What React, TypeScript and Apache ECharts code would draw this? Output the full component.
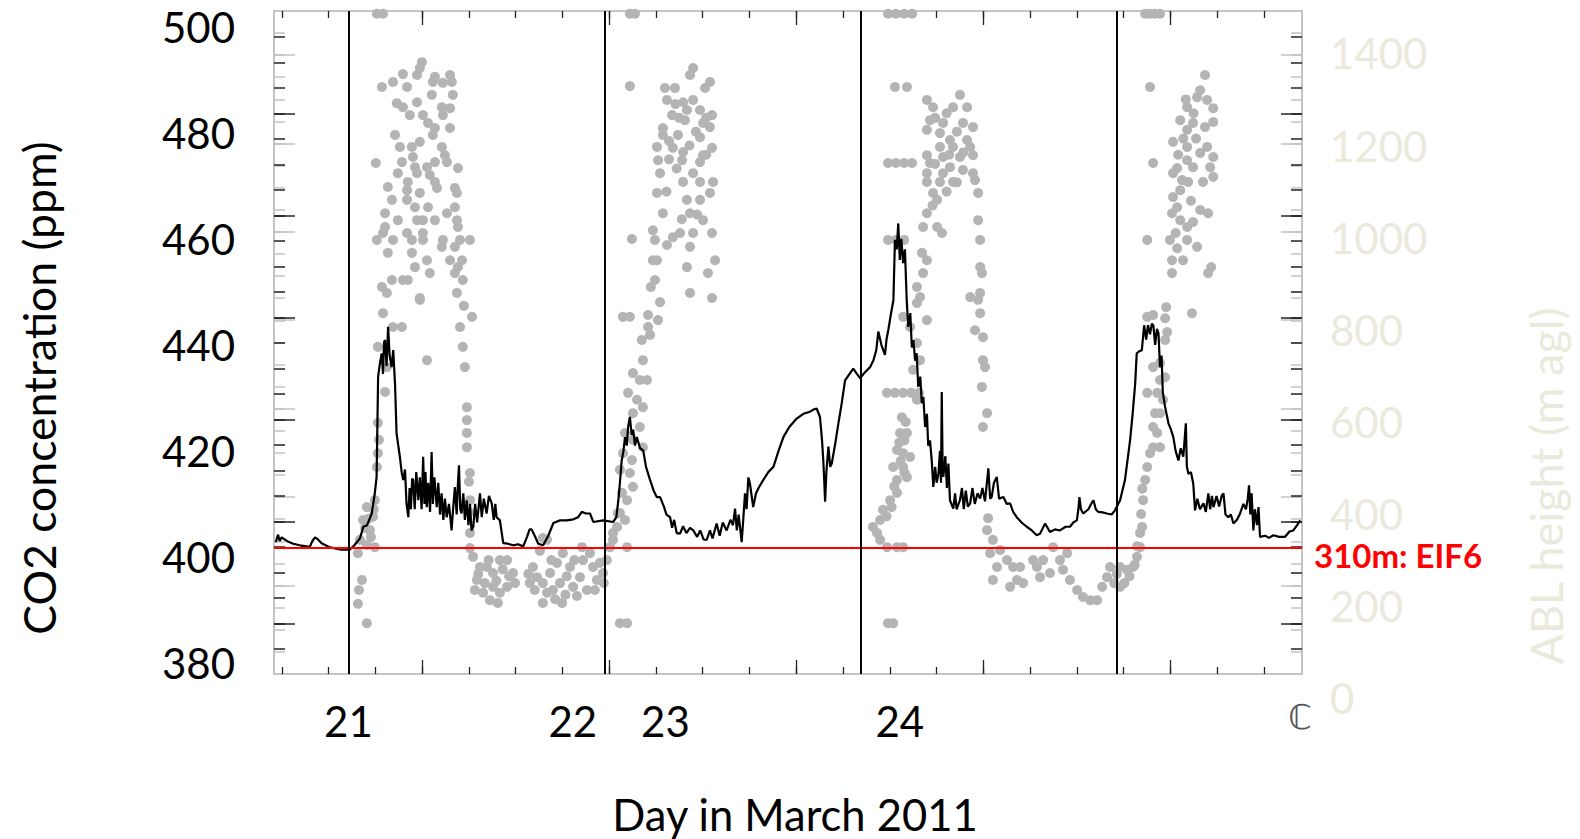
import React, { useEffect, useRef } from 'react';
import * as echarts from 'echarts';

// CO2 concentration (ppm) at station, [day in March 2011, ppm]
const co2Data: [number, number][] = [
  [20.713,402.8],[20.722,404.2],[20.728,403.0],[20.736,403.7],[20.760,402.9],[20.781,402.5],[20.807,402.2],[20.846,401.9],[20.856,403.0],[20.866,403.7],[20.878,403.3],[20.892,402.6],[20.925,401.8],[20.964,401.4],[21.003,401.4],[21.020,402.2],[21.042,403.5],[21.055,405.7],[21.070,406.0],[21.088,408.2],[21.100,412.0],[21.107,415.1],[21.113,434.0],[21.120,436.5],[21.127,438.4],[21.132,434.5],[21.136,440.5],[21.140,440.9],[21.146,436.0],[21.152,443.4],[21.158,438],[21.166,435.8],[21.172,439],[21.179,432.7],[21.185,423.3],[21.198,418.9],[21.205,416],[21.211,414.5],[21.218,416.5],[21.224,410],[21.231,407.5],[21.236,413],[21.241,409],[21.246,414.8],[21.250,414.5],[21.256,409],[21.262,416],[21.270,410.7],[21.276,415],[21.283,409],[21.289,418.9],[21.294,410],[21.298,416],[21.303,409.4],[21.309,414],[21.316,408.5],[21.322,419.8],[21.327,410],[21.333,415],[21.342,409.4],[21.348,414],[21.355,408],[21.361,412.0],[21.368,407],[21.374,411],[21.381,407.5],[21.390,410],[21.400,405.0],[21.406,409],[21.413,413.2],[21.420,408],[21.425,414],[21.429,417.3],[21.434,409],[21.439,408.2],[21.446,412],[21.452,407],[21.459,410.7],[21.466,406],[21.472,410],[21.478,405],[21.485,405.7],[21.492,410],[21.500,406.5],[21.511,412.0],[21.518,407.5],[21.526,411],[21.537,408.2],[21.546,411.5],[21.557,410.1],[21.565,407],[21.571,410],[21.576,407.5],[21.589,406.9],[21.602,402.6],[21.620,402.5],[21.641,402.2],[21.660,402.4],[21.680,402.0],[21.695,403.8],[21.705,405.2],[21.713,405.2],[21.725,404],[21.739,402.5],[21.758,402.2],[21.778,404],[21.798,406.4],[21.824,406.9],[21.850,406.9],[21.876,407.1],[21.895,407.5],[21.909,408.5],[21.925,408.2],[21.941,408.2],[21.954,406.6],[21.993,406.9],[22.032,406.6],[22.044,407.5],[22.052,410.7],[22.058,414],[22.065,418.2],[22.072,420],[22.078,422.6],[22.085,421],[22.090,424.5],[22.097,426.4],[22.104,423],[22.110,424],[22.117,421],[22.124,422.6],[22.137,420.5],[22.149,420.1],[22.160,417],[22.176,414.5],[22.190,412.5],[22.202,411.3],[22.215,411.3],[22.230,409.5],[22.240,408],[22.254,407.5],[22.262,405.5],[22.270,407],[22.280,404.5],[22.293,404.4],[22.305,405.8],[22.318,404.5],[22.332,405.5],[22.345,405.0],[22.360,403.8],[22.372,405],[22.385,403.3],[22.397,403.2],[22.410,405],[22.420,403.5],[22.436,406.3],[22.448,404],[22.460,406.5],[22.475,405.0],[22.490,407],[22.500,406],[22.508,409.1],[22.515,405],[22.522,408],[22.534,402.8],[22.540,407],[22.547,412.0],[22.553,409],[22.560,415],[22.566,413.9],[22.579,409.4],[22.590,412],[22.600,413],[22.618,414.5],[22.638,416],[22.658,417.0],[22.678,420],[22.697,422.6],[22.720,424.5],[22.749,426.1],[22.775,427],[22.801,427.4],[22.815,427.8],[22.827,428.0],[22.840,426.4],[22.848,422],[22.853,418.2],[22.857,414],[22.860,410.4],[22.865,416],[22.873,420.8],[22.880,417],[22.886,417.6],[22.900,421.5],[22.912,425.2],[22.925,429],[22.938,433.3],[22.955,434.5],[22.970,435.5],[22.985,434.5],[22.997,433.7],[23.015,434.8],[23.036,435.8],[23.049,437.1],[23.060,439],[23.068,442.5],[23.080,440],[23.094,438.1],[23.100,441],[23.107,442.8],[23.118,446],[23.127,448.4],[23.133,459.8],[23.140,458],[23.146,462.9],[23.152,456],[23.158,460],[23.165,455.4],[23.172,458],[23.179,448.4],[23.185,443.4],[23.193,446],[23.199,439.5],[23.205,440.9],[23.212,437],[23.218,438.4],[23.224,432.1],[23.232,434],[23.238,429],[23.244,430.2],[23.251,424.5],[23.258,427],[23.263,421],[23.270,422.0],[23.277,418],[23.283,413.2],[23.290,417],[23.296,414],[23.303,415.7],[23.309,420],[23.313,414],[23.316,431.1],[23.319,418],[23.322,415.1],[23.330,419],[23.336,413],[23.342,417.6],[23.348,410.7],[23.361,409.1],[23.368,412],[23.374,409],[23.387,410.7],[23.395,413],[23.402,409],[23.410,412.5],[23.418,409.5],[23.427,410.1],[23.436,413],[23.445,410],[23.456,412],[23.466,411.0],[23.475,413],[23.485,410.5],[23.498,416.7],[23.505,411],[23.511,411.3],[23.520,414],[23.531,415.1],[23.540,411],[23.557,411.3],[23.570,410],[23.583,410.1],[23.595,408.5],[23.609,407.5],[23.628,406.5],[23.648,405.7],[23.668,405],[23.687,404.1],[23.700,404.4],[23.720,406.3],[23.739,404.7],[23.758,405.2],[23.778,405.0],[23.800,405.7],[23.817,405.7],[23.830,406.5],[23.844,406.9],[23.850,409],[23.854,411.3],[23.860,409],[23.869,408.2],[23.889,409],[23.900,410],[23.909,410.7],[23.918,409],[23.928,408.5],[23.945,408.4],[23.961,408.2],[23.980,408],[23.993,408.8],[24.013,410.7],[24.032,414.5],[24.052,422.0],[24.062,427],[24.072,432.7],[24.078,438.4],[24.088,438.8],[24.098,439.0],[24.107,443.7],[24.115,441],[24.122,443.7],[24.130,442],[24.137,444],[24.143,443.7],[24.150,440],[24.157,443],[24.163,442.2],[24.169,435.8],[24.175,438],[24.180,431],[24.189,428.3],[24.202,425.2],[24.212,424],[24.221,422.6],[24.230,420],[24.241,418.2],[24.250,420.5],[24.260,418.9],[24.265,422],[24.270,425.2],[24.274,417],[24.280,415.7],[24.290,416],[24.299,413.8],[24.306,408.8],[24.315,411],[24.325,409],[24.339,410.1],[24.348,408.5],[24.358,412.0],[24.365,409],[24.372,411.5],[24.378,409.4],[24.390,411.5],[24.400,409.5],[24.410,411.5],[24.417,412.0],[24.425,408],[24.436,407.5],[24.446,408],[24.456,406.3],[24.470,407],[24.482,408.2],[24.495,410],[24.505,409],[24.512,411],[24.517,413.5],[24.522,408],[24.527,412],[24.534,405.0],[24.540,409],[24.548,406],[24.554,409.4],[24.560,403.8],[24.580,404],[24.595,403.6],[24.612,404.1],[24.635,403.8],[24.658,403.8],[24.675,404.8],[24.690,405.0],[24.705,406],[24.717,406.9]
];

// ABL height (m agl), [day in March 2011, m]
const ablData: [number, number][] = [
  [21.284,1381],[21.276,1368],[21.210,1355],[21.265,1353],[21.335,1349],[21.394,1353],[21.171,1338],[21.226,1327],[21.128,1327],[21.327,1338],[21.366,1336],[21.401,1338],[21.323,1310],[21.405,1310],[21.186,1292],[21.265,1294],[21.210,1283],[21.362,1283],[21.394,1281],[21.237,1266],[21.288,1266],[21.366,1266],[21.308,1249],[21.335,1238],[21.394,1238],[21.327,1223],[21.179,1223],[21.276,1208],[21.362,1197],[21.198,1197],[21.245,1197],[21.374,1179],[21.249,1175],[21.104,1162],[21.206,1164],[21.335,1164],[21.382,1164],[21.425,1151],[21.257,1153],[21.304,1153],[21.190,1140],[21.265,1140],[21.315,1136],[21.335,1121],[21.229,1121],[21.151,1110],[21.226,1103],[21.276,1097],[21.343,1108],[21.413,1108],[21.421,1097],[21.167,1082],[21.226,1082],[21.257,1066],[21.308,1066],[21.413,1066],[21.140,1053],[21.382,1053],[21.335,1038],[21.421,1038],[21.190,1038],[21.265,1038],[21.288,1038],[21.425,1023],[21.140,1023],[21.132,1010],[21.226,1010],[21.288,1010],[21.108,995],[21.171,995],[21.245,995],[21.288,995],[21.366,995],[21.433,995],[21.472,995],[21.413,980],[21.362,980],[21.151,967],[21.245,967],[21.304,951],[21.394,951],[21.441,951],[21.257,936],[21.425,936],[21.315,923],[21.413,923],[21.167,908],[21.210,908],[21.229,908],[21.444,908],[21.128,893],[21.147,880],[21.421,880],[21.276,869],[21.108,1486],[21.132,1486],
  [21.276,865],[21.448,852],[21.132,836],[21.480,828],[21.171,806],[21.206,806],[21.433,806],[21.112,763],[21.444,763],[21.147,719],[21.452,719],[21.304,734],[21.140,665],[21.460,632],[21.112,598],[21.460,604],[21.116,561],[21.460,576],[21.460,545],[21.112,532],[21.108,502],[21.472,489],[21.468,470],[21.100,430],[21.472,430],[21.069,415],[21.468,404],[21.093,394],[21.054,387],[21.081,365],[21.472,359],[21.042,344],[21.069,333],[21.100,328],[21.472,326],[21.034,315],[21.050,257],[21.038,235],[21.034,205],[21.069,163],[21.062,370],[21.085,350],[21.076,390],[21.096,410],
  [21.484,307],[21.511,285],[21.499,257],[21.491,235],[21.538,285],[21.562,272],[21.589,300],[21.617,300],[21.562,242],[21.589,229],[21.581,207],[21.640,272],[21.648,250],[21.617,242],[21.523,229],[21.550,213],[21.757,348],[21.773,344],[21.718,285],[21.734,263],[21.706,250],[21.757,250],[21.785,272],[21.812,294],[21.835,315],[21.863,285],[21.824,250],[21.773,229],[21.757,207],[21.796,235],[21.832,207],[21.875,242],[21.902,263],[21.914,300],[21.910,328],[21.941,315],[21.953,285],[21.929,235],[21.968,257],[21.992,272],[22.007,300],[22.019,328],[22.031,344],[22.047,372],[22.058,402],[22.031,359],[21.980,294],[22.086,328],[22.058,163],[22.086,163],
  [21.504,270],[21.530,250],[21.545,300],[21.575,255],[21.600,280],[21.625,265],[21.700,270],[21.745,320],[21.790,300],[21.850,265],[21.880,300],[21.890,222],[21.960,235],[21.995,250],[21.845,225],[21.805,215],[21.725,235],
  [22.070,828],[22.097,828],[22.168,832],[22.168,806],[22.144,778],[22.148,734],[22.109,706],[22.136,691],[22.164,691],[22.090,663],[22.125,648],[22.148,632],[22.109,619],[22.136,589],[22.078,576],[22.109,561],[22.148,545],[22.070,532],[22.105,517],[22.058,496],[22.097,489],[22.109,459],[22.066,446],[22.086,430],[22.050,402],[22.078,387],[22.097,1486],[22.117,1486],[22.097,1329],[22.105,997],[22.195,995],[22.203,951],[22.179,893],[22.215,860],[22.207,821],[22.176,789],
  [22.344,1368],[22.332,1353],[22.410,1338],[22.234,1325],[22.273,1325],[22.391,1325],[22.242,1299],[22.305,1294],[22.344,1299],[22.320,1277],[22.371,1277],[22.418,1266],[22.262,1266],[22.312,1255],[22.383,1249],[22.226,1238],[22.410,1240],[22.226,1223],[22.285,1223],[22.371,1218],[22.203,1197],[22.265,1195],[22.305,1186],[22.418,1195],[22.383,1179],[22.207,1168],[22.301,1168],[22.371,1164],[22.215,1140],[22.344,1140],[22.305,1121],[22.371,1121],[22.422,1121],[22.203,1097],[22.320,1082],[22.371,1082],[22.410,1097],[22.226,1053],[22.332,1053],[22.383,1038],[22.187,1016],[22.265,1001],[22.293,1010],[22.344,1010],[22.418,1010],[22.242,984],[22.332,980],[22.187,951],[22.320,936],[22.430,951],[22.402,923],[22.195,908],[22.332,880],[22.418,869],
  [22.250,1210],[22.290,1260],[22.355,1230],[22.395,1180],[22.280,1150],[22.330,1200],[22.240,1100],[22.300,1040],[22.360,1050],[22.250,1170],[22.395,1260],[22.275,1290],
  [23.133,1327],[23.180,1327],[23.106,1162],[23.137,1162],[23.169,1162],[23.200,1162],[23.258,1299],[23.282,1283],[23.387,1310],[23.360,1283],[23.415,1283],[23.270,1255],[23.321,1249],[23.399,1249],[23.438,1240],[23.258,1234],[23.309,1227],[23.348,1212],[23.415,1212],[23.309,1197],[23.360,1197],[23.427,1197],[23.258,1179],[23.321,1175],[23.387,1175],[23.438,1179],[23.270,1162],[23.348,1153],[23.399,1147],[23.438,1140],[23.258,1140],[23.321,1140],[23.446,1125],[23.258,1121],[23.309,1121],[23.360,1121],[23.282,1097],[23.458,1097],[23.298,1082],[23.258,1053],[23.458,1038],[23.243,1023],[23.298,1023],[23.317,1010],[23.466,995],[23.239,967],[23.258,951],[23.466,936],[23.243,923],[23.473,923],[23.219,893],[23.466,880],[23.231,871],[23.427,871],[23.106,995],[23.137,995],[23.169,995],[23.106,1486],[23.137,1486],[23.169,1486],[23.200,1486],
  [23.290,1260],[23.335,1270],[23.375,1230],[23.345,1180],[23.290,1160],[23.400,1185],[23.375,1120],[23.335,1100],[23.280,1070],
  [23.458,865],[23.466,836],[23.446,799],[23.477,784],[23.477,734],[23.485,719],[23.473,676],[23.493,619],[23.477,589],[23.219,858],[23.258,821],[23.165,828],[23.192,806],[23.219,771],[23.231,734],[23.204,713],[23.102,663],[23.133,663],[23.165,663],[23.196,663],[23.227,663],[23.219,648],[23.153,576],[23.180,576],[23.141,539],[23.165,532],[23.192,524],[23.126,502],[23.165,502],[23.141,474],[23.180,480],[23.141,446],[23.114,430],[23.086,409],[23.075,387],[23.047,372],[23.063,359],[23.075,344],[23.102,328],[23.141,328],[23.165,328],[23.106,163],[23.126,163],[23.497,391],[23.493,365],[23.516,344],[23.505,315],[23.544,322],[23.532,285],[23.516,257],[23.571,300],[23.595,285],[23.610,257],[23.622,285],[23.583,242],[23.634,250],[23.673,300],[23.688,285],[23.712,300],[23.700,263],
  [23.160,610],[23.175,600],[23.150,555],[23.170,560],[23.155,515],[23.170,490],[23.130,460],[23.120,415],[23.100,395],
  [23.751,328],[23.778,300],[23.739,272],[23.806,315],[23.790,279],[23.817,257],[23.845,235],[23.868,220],[23.896,213],[23.923,213],[23.943,242],[23.962,263],[23.974,285],[24.013,285],[24.013,242],[24.040,279],[24.064,285],[24.079,307],[24.091,328],[24.091,359],[24.099,372],[24.103,430],[24.111,474],[24.119,502],[24.130,532],[24.142,545],[24.169,545],[24.158,576],[24.142,589],[24.150,619],[24.169,619],[24.181,648],[24.158,663],[24.169,691],[24.189,697],[24.142,719],[24.169,728],[24.189,778],[24.197,795],[24.189,825],[24.193,849],[24.119,828],[24.142,832],[24.119,663],[24.294,836],
  [23.990,250],[24.000,270],[24.030,250],[24.050,265],[24.070,290],[24.080,330],[24.095,400],[24.100,455],
  [24.345,1353],[24.130,1327],[24.326,1320],[24.314,1305],[24.353,1299],[24.275,1283],[24.377,1281],[24.248,1255],[24.298,1249],[24.377,1251],[24.275,1234],[24.220,1208],[24.275,1197],[24.353,1197],[24.326,1184],[24.377,1175],[24.142,1162],[24.275,1168],[24.236,1151],[24.298,1153],[24.365,1153],[24.220,1140],[24.377,1132],[24.279,1121],[24.337,1121],[24.248,1103],[24.220,1088],[24.236,1066],[24.326,1060],[24.216,1053],[24.357,1053],[24.248,1038],[24.275,1023],[24.298,1034],[24.119,995],[24.208,995],[24.275,995],[24.236,977],[24.314,980],[24.216,951],[24.259,951],[24.216,923],[24.357,923],[24.369,936],[24.111,1486],[24.130,1486],[24.150,1486],[24.169,1486],
  [24.300,1270],[24.260,1215],[24.310,1215],[24.240,1180],[24.345,1240],[24.255,1125],[24.230,1010],[24.290,1080],[24.270,1300]
];

const dayLines = [21, 22, 23, 24];
const dayLabelPos = [20.997, 21.874, 22.236, 23.152];
const dayLabelText = ['21', '22', '23', '24'];
const co2LabelMin = 380;
const co2LabelMax = 500;
const co2LabelStep = 20;
const ablLabelMin = 0;
const ablLabelMax = 1400;
const ablLabelStep = 200;
const eifHeight = 326;
const eifLabel = '310m: EIF6';

const X_MIN = 20.706;
const X_MAX = 24.724;
const CO2_MIN = 377.93;
const CO2_MAX = 502.96;
const ABL_MIN = 52.7;
const ABL_MAX = 1492;

function seq(start: number, step: number, count: number): number[] {
  const out: number[] = [];
  for (let i = 0; i < count; i++) out.push(+(start + step * i).toFixed(4));
  return out;
}

const xMinorTicks = seq(20.7369, 0.18276, 22);
const xMajorTicks = seq(21.2852, 0.73104, 5);
// frame tick marks (in frame pixel units, top = 11, bottom = 674)
const blackMinorTicks = seq(36.8, 25.5, 25);
const blackMajorTicks = seq(113.3, 102, 6);
const greyMinorTicks = seq(33, 22.1, 29);
const greyMajorTicks = seq(55, 88.4, 7);

const FONT = 'Lato';

function tickAxis(position: 'left' | 'right', values: number[], length: number, color: string) {
  return {
    gridIndex: 0,
    type: 'value',
    inverse: true,
    min: 11,
    max: 674,
    position,
    axisLine: { show: false },
    splitLine: { show: false },
    axisLabel: { show: false },
    axisTick: { show: true, inside: true, length, customValues: values, lineStyle: { color, width: 1.5 } },
  };
}

function xTickAxis(position: 'top' | 'bottom', values: number[], length: number) {
  return {
    gridIndex: 0,
    type: 'value',
    min: X_MIN,
    max: X_MAX,
    position,
    axisLine: { show: false },
    splitLine: { show: false },
    axisLabel: { show: false },
    axisTick: { show: true, inside: true, length, customValues: values, lineStyle: { color: '#222', width: 1.3 } },
  };
}

export default function App() {
  const ref = useRef<HTMLDivElement>(null);
  useEffect(() => {
    const chart = echarts.init(ref.current!, null, { renderer: 'svg' });
    const option: any = {
      animation: false,
      backgroundColor: '#ffffff',
      grid: [
        { left: 274, top: 11, width: 1028, height: 663, show: true, borderColor: '#c4c4c4', borderWidth: 2, backgroundColor: 'transparent' },
        { left: 274, top: 26.7, width: 1028, height: 636.3 },
        { left: 274, top: 53.4, width: 1028, height: 644.9 },
      ],
      xAxis: [
        {
          gridIndex: 0,
          type: 'value',
          min: X_MIN,
          max: X_MAX,
          position: 'bottom',
          axisLine: { show: false },
          splitLine: { show: false },
          axisTick: { show: true, inside: true, length: 7, customValues: xMinorTicks, lineStyle: { color: '#222', width: 1.3 } },
          axisLabel: {
            show: true,
            customValues: dayLabelPos,
            formatter: (v: number) => {
              const i = dayLabelPos.findIndex((p) => Math.abs(p - v) < 1e-6);
              return i >= 0 ? dayLabelText[i] : '';
            },
            fontSize: 42,
            fontFamily: FONT,
            color: '#000',
            margin: 26,
          },
        },
        xTickAxis('bottom', xMajorTicks, 14),
        xTickAxis('top', xMinorTicks, 7),
        xTickAxis('top', xMajorTicks, 14),
        { gridIndex: 1, type: 'value', show: false, min: 0, max: 1 },
        { gridIndex: 2, type: 'value', show: false, min: 0, max: 1 },
      ],
      yAxis: [
        { gridIndex: 0, type: 'value', min: CO2_MIN, max: CO2_MAX, show: false },
        { gridIndex: 0, type: 'value', min: ABL_MIN, max: ABL_MAX, show: false },
        tickAxis('left', greyMinorTicks, 11, '#c2c2c2'),
        tickAxis('left', greyMajorTicks, 21, '#c2c2c2'),
        tickAxis('right', greyMinorTicks, 11, '#c2c2c2'),
        tickAxis('right', greyMajorTicks, 21, '#c2c2c2'),
        tickAxis('left', blackMinorTicks, 11, '#222'),
        tickAxis('left', blackMajorTicks, 21, '#222'),
        tickAxis('right', blackMinorTicks, 11, '#222'),
        tickAxis('right', blackMajorTicks, 21, '#222'),
        {
          gridIndex: 1,
          type: 'value',
          min: co2LabelMin,
          max: co2LabelMax,
          interval: co2LabelStep,
          position: 'left',
          axisLine: { show: false },
          axisTick: { show: false },
          splitLine: { show: false },
          axisLabel: { fontSize: 42, lineHeight: 40, fontFamily: FONT, color: '#000', margin: 39 },
        },
        {
          gridIndex: 2,
          type: 'value',
          min: ablLabelMin,
          max: ablLabelMax,
          interval: ablLabelStep,
          position: 'right',
          axisLine: { show: false },
          axisTick: { show: false },
          splitLine: { show: false },
          axisLabel: {
            fontSize: 42,
            lineHeight: 34,
            fontFamily: FONT,
            color: '#ebe8dc',
            margin: 28,
            formatter: (v: number) => String(v),
          },
        },
      ],
      series: [
        {
          type: 'scatter',
          xAxisIndex: 0,
          yAxisIndex: 1,
          data: ablData,
          symbol: 'circle',
          symbolSize: 10,
          itemStyle: { color: '#b4b4b4', opacity: 1 },
          z: 2,
          silent: true,
          markLine: {
            silent: true,
            symbol: 'none',
            data: [{ yAxis: eifHeight }],
            lineStyle: { color: '#ff0000', width: 2, type: 'solid' },
            label: {
              show: true,
              position: 'end',
              formatter: eifLabel,
              color: '#ff0000',
              fontWeight: 'bold',
              fontSize: 33,
              lineHeight: 14,
              verticalAlign: 'top',
              fontFamily: FONT,
              distance: 12,
            },
          },
        },
        {
          type: 'line',
          xAxisIndex: 0,
          yAxisIndex: 0,
          data: co2Data,
          showSymbol: false,
          symbol: 'none',
          lineStyle: { color: '#000', width: 2.2 },
          z: 3,
          silent: true,
          markLine: {
            silent: true,
            symbol: 'none',
            data: dayLines.map((d) => ({ xAxis: d })),
            lineStyle: { color: '#000', width: 2, type: 'solid' },
            label: { show: false },
          },
        },
      ],
      graphic: [
        {
          type: 'text',
          x: 38,
          y: 388,
          rotation: Math.PI / 2,
          style: { text: 'CO2 concentration (ppm)', fontSize: 44.5, fontFamily: FONT, fill: '#000', align: 'center', verticalAlign: 'middle' },
        },
        {
          type: 'text',
          x: 795,
          y: 814,
          style: { text: 'Day in March 2011', fontSize: 43.5, fontFamily: FONT, fill: '#000', align: 'center', verticalAlign: 'middle' },
        },
        {
          type: 'text',
          x: 1546,
          y: 486,
          rotation: Math.PI / 2,
          style: { text: 'ABL height (m agl)', fontSize: 45, fontFamily: FONT, fill: '#ebe8dc', align: 'center', verticalAlign: 'middle' },
        },
        {
          type: 'text',
          x: 1300,
          y: 717,
          style: { text: 'ℂ', fontSize: 34, fontFamily: 'DejaVu Sans', fill: '#555', align: 'center', verticalAlign: 'middle' },
        },
      ],
    };
    chart.setOption(option);
    return () => chart.dispose();
  }, []);
  return (
    <div
      ref={ref}
      style={{ position: 'absolute', left: 0, top: 0, width: 1580, height: 839, background: '#fff' }}
    />
  );
}
